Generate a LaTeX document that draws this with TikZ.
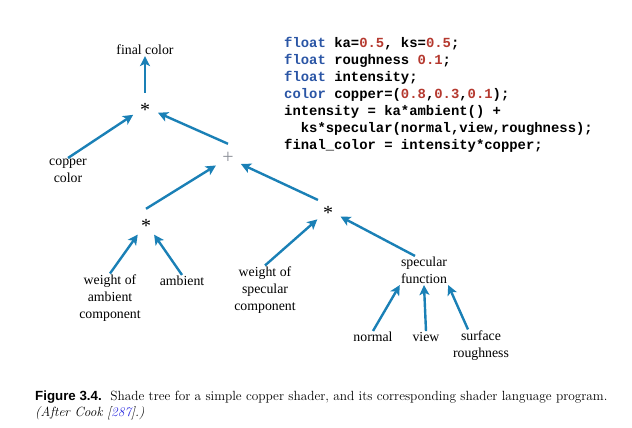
\documentclass[tikz,border=0pt]{standalone}
\usepackage{fontspec}
\newfontfamily\treefont{Liberation Serif}
\newfontfamily\figsans{Liberation Sans}
\setmonofont{Liberation Mono}
\usetikzlibrary{arrows.meta}
\definecolor{arrowblue}{HTML}{1A80B6}
\definecolor{kwblue}{HTML}{2A55A5}
\definecolor{numred}{HTML}{B5392F}
\definecolor{refblue}{HTML}{3030E0}
\definecolor{plusgray}{HTML}{8C9098}
\newcommand\codekw[1]{\textcolor{kwblue}{#1}}
\newcommand\codenum[1]{\textcolor{numred}{#1}}

\begin{document}
\begin{tikzpicture}[x=1pt,y=-1pt]

\tikzset{leaf/.style={font=\treefont\fontsize{13.8}{17}\selectfont, align=center, inner sep=1pt},
         oper/.style={circle, minimum size=28pt, inner sep=0pt, text height=0pt, text depth=0pt,
                      font=\treefont\fontsize{20}{20}\selectfont},
         feed/.style={draw=arrowblue, line width=2.4pt, -{Stealth[length=10pt,width=10pt,inset=2.5pt]}},
         code/.style={font=\ttfamily\bfseries\fontsize{13.9}{16.94}\selectfont, align=left, inner sep=0pt}}

\useasboundingbox (0,0) rectangle (632,428);

\node[leaf] (final) at (145,50) {final color};
\node[oper] (mtop) at (145,107) {\raisebox{-0.47em}{*}};
\node[leaf] (copper) at (68,171) {copper\\color};
\node[oper, text=plusgray] (sum) at (228,158) {\raisebox{-0.25em}{+}};
\node[oper] (mamb) at (146,223) {\raisebox{-0.47em}{*}};
\node[oper] (mspec) at (328,210) {\raisebox{-0.47em}{*}};
\node[leaf] (wamb) at (110,298) {weight of\\ambient\\component};
\node[leaf] (amb) at (182,281) {ambient};
\node[leaf] (wspec) at (265,290) {weight of\\specular\\component};
\node[leaf] (specf) at (424,270.5) {specular\\function};
\node[leaf] (normal) at (373,337) {normal};
\node[leaf] (view) at (426,337) {view};
\node[leaf] (rough) at (481,345.5) {surface\\roughness};

\draw[feed] (mtop.north) -- (final);
\draw[feed] (copper.north) -- (mtop);
\draw[feed] (sum.north) -- (mtop);
\draw[feed] (mamb.north) -- (sum);
\draw[feed] (mspec.north west) -- (sum);
\draw[feed] (wamb.north) -- (mamb);
\draw[feed] (amb.north) -- (mamb);
\draw[feed] (wspec.north) -- (mspec);
\draw[feed] ([xshift=-9pt]specf.north) -- (mspec);
\draw[feed] (normal.north) -- (specf.south west);
\draw[feed] (view.north) -- (specf.south);
\draw[feed] ([xshift=-13pt]rough.north) -- (specf.south east);

\node[code, anchor=north west] (prog) at (284,37) {%
\codekw{float} ka=\codenum{0.5}, ks=\codenum{0.5};\\
\codekw{float} roughness \codenum{0.1};\\
\codekw{float} intensity;\\
\codekw{color} copper=(\codenum{0.8},\codenum{0.3},\codenum{0.1});\\
intensity = ka*ambient() +\\
\phantom{ks}ks*specular(normal,view,roughness);\\
final\_color = intensity*copper;};

\node[anchor=base west, align=left, inner sep=0pt, font=\fontsize{13.3}{16}\selectfont] (caption) at (35,416) {%
{\figsans\bfseries Figure 3.4.}\ \ Shade tree for a simple copper shader, and its corresponding shader language program.\\
\textit{(After Cook [\textcolor{refblue}{287}].)}};

\end{tikzpicture}
\end{document}
